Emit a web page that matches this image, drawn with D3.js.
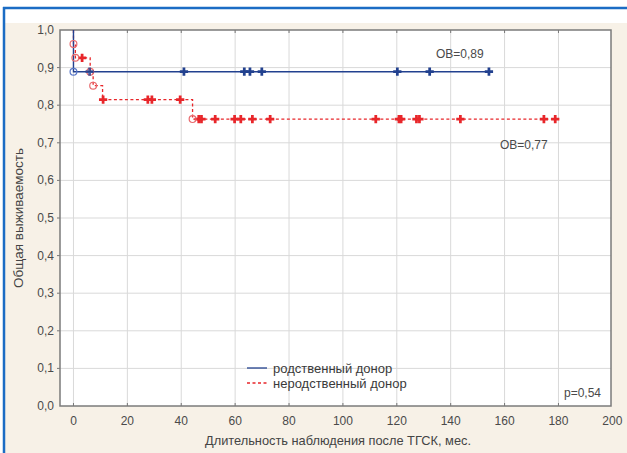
<!DOCTYPE html>
<html>
<head>
<meta charset="utf-8">
<script src="https://cdn.jsdelivr.net/npm/d3@7"></script>
<style>
  body { margin: 0; background: #fff; }
  svg { display: block; font-family: "Liberation Sans", Arial, sans-serif; }
</style>
</head>
<body>
<svg id="chart" width="627" height="453"></svg>
<script>
// Kaplan–Meier curves: [time, survival] steps, censored times, event markers
const relatedSteps = [[0, 1], [0, 0.889], [154.2, 0.889]];
const relatedEvents = [[0, 0.889]];
const relatedCensored = [6, 41, 63.4, 65.5, 69.9, 120.2, 132.2, 154.2];

const unrelatedSteps = [[0, 1], [0, 0.963], [0.7, 0.963], [0.7, 0.926], [6.2, 0.926], [6.2, 0.889],
  [7.3, 0.889], [7.3, 0.852], [10.8, 0.852], [10.8, 0.815], [44.2, 0.815], [44.2, 0.763], [178.8, 0.763]];
const unrelatedEvents = [[0, 0.963], [0.7, 0.926], [6.2, 0.889], [7.3, 0.852], [44.2, 0.763]];
const unrelatedCensored = [
  { t: 3.2, s: 0.926 },
  { t: 11, s: 0.815 }, { t: 27.6, s: 0.815 }, { t: 29.1, s: 0.815 }, { t: 39.6, s: 0.815 },
  { t: 46.5, s: 0.763 }, { t: 47.5, s: 0.763 }, { t: 52.6, s: 0.763 }, { t: 59.8, s: 0.763 }, { t: 62.1, s: 0.763 },
  { t: 66.4, s: 0.763 }, { t: 73, s: 0.763 }, { t: 112.2, s: 0.763 }, { t: 120.8, s: 0.763 },
  { t: 121.6, s: 0.763 }, { t: 127.3, s: 0.763 }, { t: 128.4, s: 0.763 }, { t: 143.6, s: 0.763 },
  { t: 174.6, s: 0.763 }, { t: 178.8, s: 0.763 }
];

const xTicks = d3.range(0, 201, 20);
const yTicks = d3.range(0, 1.01, 0.1);
const legendItems = ['родственный донор', 'неродственный донор'];

const BLUE = '#22418f';
const RED = '#e8262a';

const svg = d3.select('#chart');

// page frame
svg.append('rect').attr('x', 5).attr('y', 23).attr('width', 622).attr('height', 430).attr('fill', '#f7f1e7');
svg.append('line').attr('x1', 3).attr('x2', 627).attr('y1', 8).attr('y2', 8)
  .attr('stroke', '#1b6cc4').attr('stroke-width', 2.5);
svg.append('line').attr('x1', 4).attr('x2', 4).attr('y1', 7).attr('y2', 453)
  .attr('stroke', '#1b6cc4').attr('stroke-width', 2.5);

const pL = 60, pR = 611, pT = 30, pB = 406;
const x = d3.scaleLinear().domain([-5, 199.5]).range([pL, pR]);
const y = d3.scaleLinear().domain([0, 1]).range([pB, pT]);

svg.append('rect').attr('x', pL).attr('y', pT).attr('width', pR - pL).attr('height', pB - pT)
  .attr('fill', '#fff');

// grid
const grid = svg.append('g').attr('stroke', '#d9d9d9').attr('stroke-width', 1);
grid.selectAll('.vx').data(xTicks.filter(d => d < 200)).enter().append('line')
  .attr('x1', d => x(d)).attr('x2', d => x(d)).attr('y1', pT).attr('y2', pB);
grid.selectAll('.hy').data(yTicks.slice(1, -1)).enter().append('line')
  .attr('x1', pL).attr('x2', pR).attr('y1', d => y(d)).attr('y2', d => y(d));

// inner ticks on top and bottom, outer ticks on the left
const tk = svg.append('g').attr('stroke', '#777').attr('stroke-width', 1);
tk.selectAll('.tt').data(xTicks.filter(d => d < 200)).enter().append('line')
  .attr('x1', d => x(d)).attr('x2', d => x(d)).attr('y1', pT).attr('y2', pT + 3);
tk.selectAll('.tb').data(xTicks.filter(d => d < 200)).enter().append('line')
  .attr('x1', d => x(d)).attr('x2', d => x(d)).attr('y1', pB).attr('y2', pB - 3);
tk.selectAll('.tl').data(yTicks.slice(1, -1)).enter().append('line')
  .attr('x1', pL - 3).attr('x2', pL).attr('y1', d => y(d)).attr('y2', d => y(d));

svg.append('rect').attr('x', pL).attr('y', pT).attr('width', pR - pL).attr('height', pB - pT)
  .attr('fill', 'none').attr('stroke', '#7b7b7b').attr('stroke-width', 1.5);

// tick labels
svg.append('g').selectAll('text').data(xTicks).enter().append('text')
  .attr('x', d => x(d)).attr('y', 425).attr('text-anchor', 'middle')
  .attr('font-size', 12).attr('fill', '#4a4a4a').text(d => d);
svg.append('g').selectAll('text').data(yTicks).enter().append('text')
  .attr('x', 54).attr('y', d => y(d) + 4).attr('text-anchor', 'end')
  .attr('font-size', 12).attr('fill', '#4a4a4a').text(d => d3.format('.1f')(d).replace('.', ','));

svg.append('text').attr('x', 338).attr('y', 445).attr('text-anchor', 'middle')
  .attr('font-size', 12.8).attr('fill', '#444').text('Длительность наблюдения после ТГСК, мес.');
svg.append('text').attr('transform', 'translate(23,218) rotate(-90)').attr('text-anchor', 'middle')
  .attr('font-size', 13.5).attr('fill', '#444').text('Общая выживаемость');

// curves
const line = d3.line().x(d => x(d[0])).y(d => y(d[1]));
svg.append('path').datum(unrelatedSteps).attr('d', line).attr('fill', 'none')
  .attr('stroke', RED).attr('stroke-width', 1.3).attr('stroke-dasharray', '3,2.5');
svg.append('path').datum(relatedSteps).attr('d', line).attr('fill', 'none')
  .attr('stroke', BLUE).attr('stroke-width', 1.4);

const cross = d3.symbol().type(d3.symbolCross).size(38);
svg.append('g').selectAll('path').data(unrelatedCensored).enter().append('path')
  .attr('d', cross).attr('transform', d => `translate(${x(d.t)},${y(d.s)})`).attr('fill', RED);
svg.append('g').selectAll('circle').data(unrelatedEvents).enter().append('circle')
  .attr('cx', d => x(d[0])).attr('cy', d => y(d[1])).attr('r', 3.4)
  .attr('fill', 'none').attr('stroke', '#e86a6e').attr('stroke-width', 1.2);
svg.append('g').selectAll('path').data(relatedCensored).enter().append('path')
  .attr('d', cross).attr('transform', d => `translate(${x(d)},${y(0.889)})`).attr('fill', BLUE)
  .attr('opacity', d => d === 6 ? 0.8 : 1);
svg.append('g').selectAll('circle').data(relatedEvents).enter().append('circle')
  .attr('cx', d => x(d[0])).attr('cy', d => y(d[1])).attr('r', 3.4)
  .attr('fill', 'none').attr('stroke', '#5a78c8').attr('stroke-width', 1.2);

// annotations
const note = (tx, ty, s, anchor) => svg.append('text').attr('x', tx).attr('y', ty)
  .attr('text-anchor', anchor || 'start').attr('font-size', 12).attr('fill', '#4a4a4a').text(s);
note(436, 58, 'OB=0,89');
note(500, 149, 'OB=0,77');
note(601, 397, 'p=0,54', 'end');

// legend
const lg = svg.append('g').attr('transform', 'translate(247,368)');
lg.selectAll('line').data(legendItems).enter().append('line')
  .attr('x1', 0).attr('x2', 20).attr('y1', (d, i) => i * 15).attr('y2', (d, i) => i * 15)
  .attr('stroke', (d, i) => i ? RED : BLUE).attr('stroke-width', 1.3)
  .attr('stroke-dasharray', (d, i) => i ? '3,2.5' : null);
lg.selectAll('text').data(legendItems).enter().append('text')
  .attr('x', 26).attr('y', (d, i) => i * 15 + 4.5).attr('font-size', 13).attr('fill', '#3a3a3a').text(d => d);
</script>
</body>
</html>
